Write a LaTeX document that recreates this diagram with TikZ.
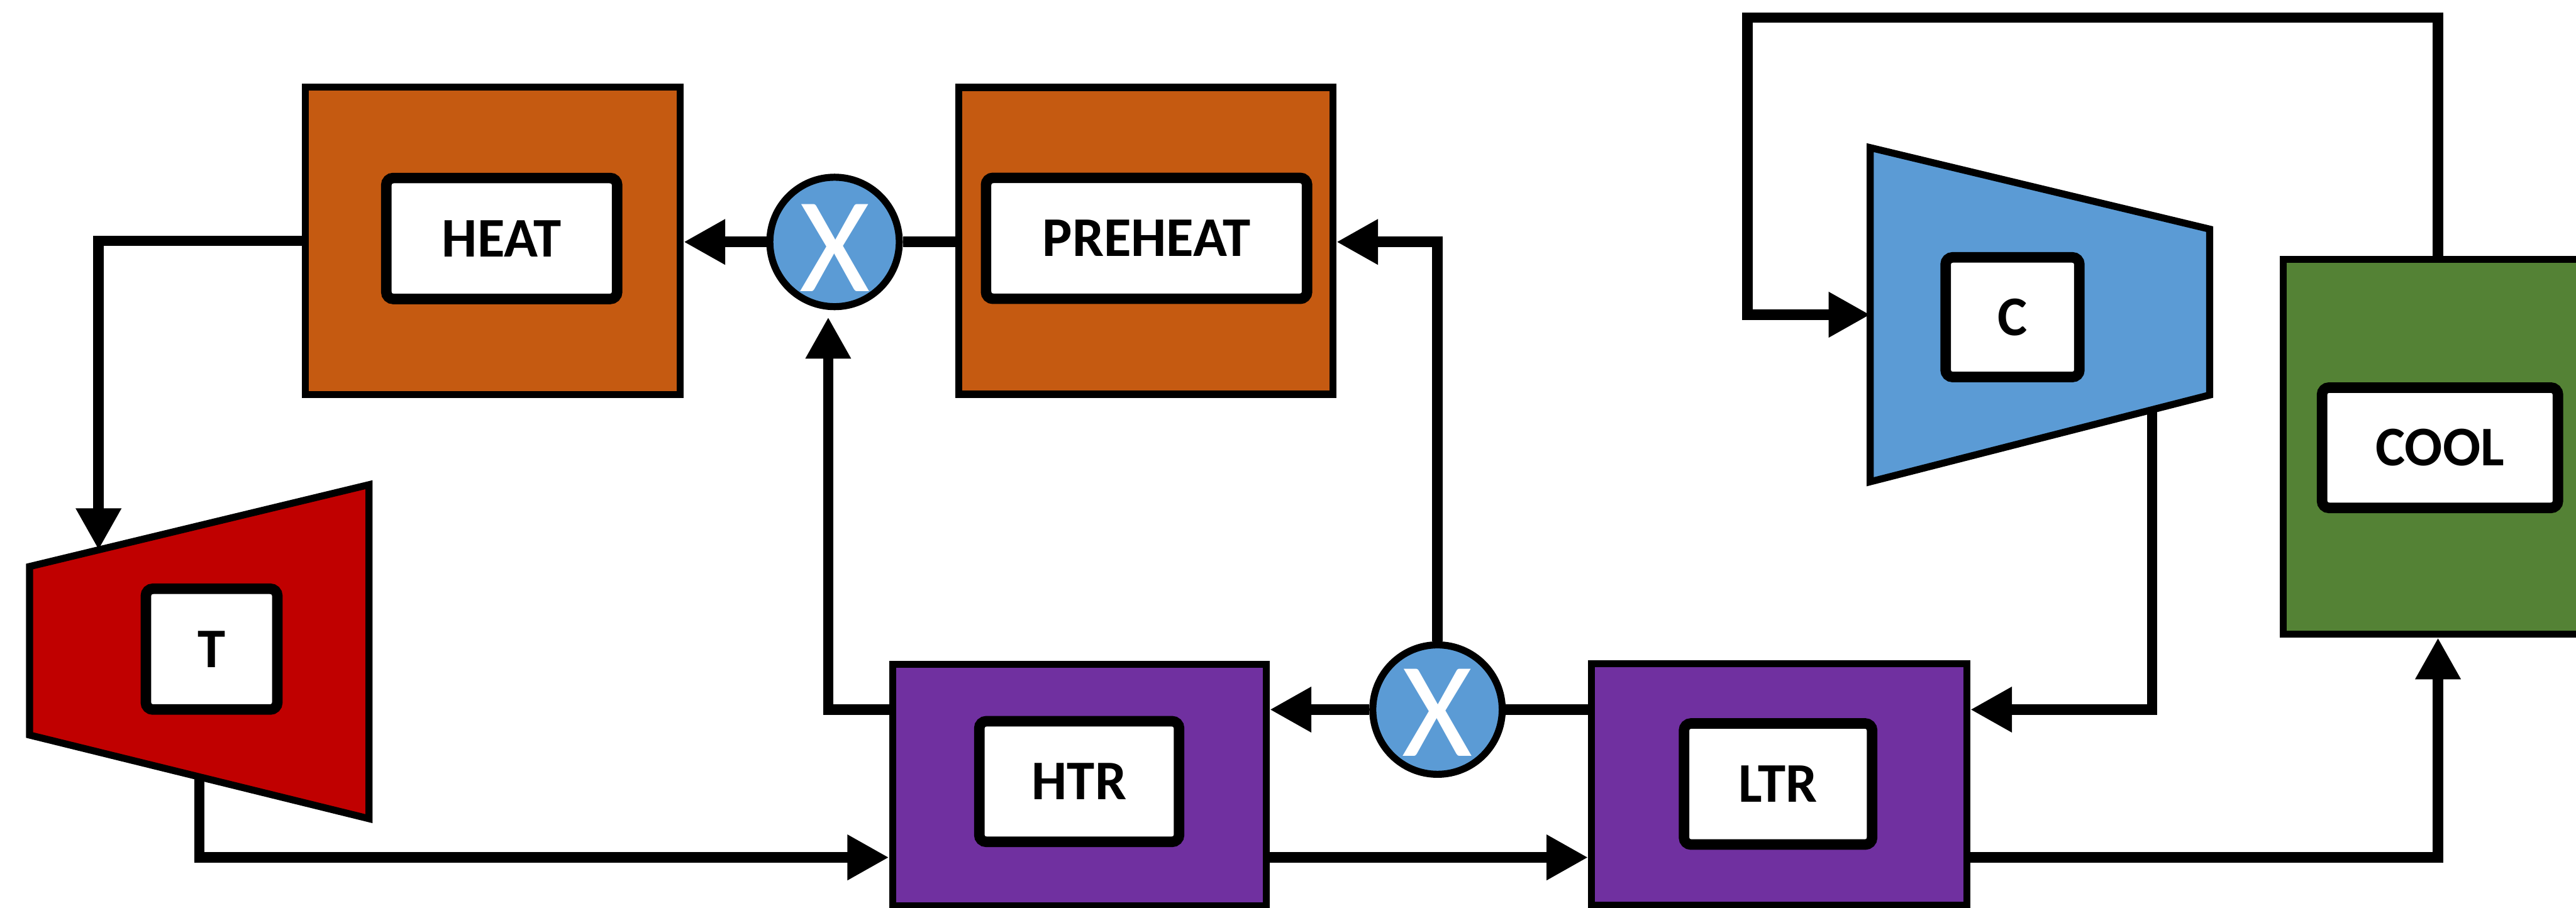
\documentclass[tikz,border=0pt]{standalone}
\usepackage{fontspec}
\setmainfont{Carlito}
\usetikzlibrary{arrows.meta,calc}
\definecolor{heatorange}{HTML}{C55A11}
\definecolor{recuppurple}{HTML}{7030A0}
\definecolor{coolgreen}{HTML}{548235}
\definecolor{compblue}{HTML}{5B9BD5}
\definecolor{turbred}{HTML}{C00000}
\pgfdeclarelayer{pipes}
\pgfsetlayers{pipes,main}

\begin{document}
\begin{tikzpicture}[x=0.1mm,y=-0.1mm,
  unit/.style={draw=black, line width=1.22pt, rectangle, inner sep=0pt},
  tag/.style={draw=black, fill=white, line width=1.82pt, rounded corners=1.2pt,
    inner sep=0pt, font=\fontsize{9.7}{11}\selectfont\bfseries},
  mixer/.style={circle, draw=black, line width=1.22pt, fill=compblue,
    minimum size=7.88mm, inner sep=0pt},
  mixmark/.style={text=white, inner sep=0pt, font=\fontsize{23.5}{24}\selectfont},
  machine/.style={draw=black, line width=1.22pt},
  pipe/.style={line width=1.82pt},
  flow/.style={pipe, -{Triangle[length=7.2pt,width=7.4pt]}},
]
\useasboundingbox (0,0) rectangle (1568,552.7);
\clip (0,0) rectangle (1568,552.7);

% heat exchangers and cooler
\node[unit, fill=heatorange, minimum width=22.8mm, minimum height=18.7mm] (heat) at (300,146.6) {};
\node[unit, fill=heatorange, minimum width=22.77mm, minimum height=18.68mm] (preheat) at (697.5,146.6) {};
\node[unit, fill=recuppurple, minimum width=22.75mm, minimum height=14.7mm] (htr) at (657,477.8) {};
\node[unit, fill=recuppurple, minimum width=22.84mm, minimum height=14.7mm] (ltr) at (1083,477.7) {};
\node[unit, fill=coolgreen, minimum width=18.86mm, minimum height=22.82mm] (cool) at (1484,272) {};

% turbine
\draw[machine, fill=turbred] (18,344.9) -- (224.6,295.1) -- (224.6,498.4) -- (18,447.5) -- cycle;
\coordinate (tin) at (60,334.8);
\coordinate (tout) at (121.3,470);

% compressor
\draw[machine, fill=compblue] (1138.4,89.9) -- (1345,139.5) -- (1345,240.5) -- (1138.4,293.3) -- cycle;
\coordinate (cin) at (1138.4,191.6);
\coordinate (cout) at (1310,246);

% mixers
\node[mixer] (mix1) at (508,147.3) {};
\node[mixmark] (mix1x) at (508,151) {X};
\node[mixer] (mix2) at (875,432) {};
\node[mixmark] (mix2x) at (875,434) {X};

% labels
\node[tag, minimum width=14.05mm, minimum height=7.36mm] (heatlbl) at (305.4,145.2) {HEAT};
\node[tag, minimum width=19.54mm, minimum height=7.36mm] (preheatlbl) at (697.9,145.1) {PREHEAT};
\node[tag, minimum width=8.0mm, minimum height=7.35mm] (tlbl) at (128.8,395.2) {T};
\node[tag, minimum width=12.16mm, minimum height=7.34mm] (htrlbl) at (656.9,475.8) {HTR};
\node[tag, minimum width=11.45mm, minimum height=7.37mm] (ltrlbl) at (1082.3,477.3) {LTR};
\node[tag, minimum width=8.14mm, minimum height=7.28mm] (clbl) at (1225,193.1) {C};
\node[tag, minimum width=14.36mm, minimum height=7.32mm] (coollbl) at (1485.2,272.6) {COOL};

% piping
\coordinate (lowrow) at (0,522);
\coordinate (loopcorner) at (1063.7,10.7);
\begin{pgfonlayer}{pipes}
  \draw[flow] (heat.west) -| (tin);
  \draw[flow] (mix1.west) -- (mix1.west -| heat.east);
  \draw[pipe] (preheat.west |- mix1) -- (mix1.east);
  \draw[flow] (mix2.north) |- (preheat.east |- mix1);
  \draw[flow, shorten >=1.2pt] (htr.west |- mix2) -| ([xshift=-1.1pt]mix1.south);
  \draw[flow] (mix2.west) -- (mix2.west -| htr.east);
  \draw[pipe] (mix2.east) -- (mix2.east -| ltr.west);
  \draw[flow] (tout) |- (htr.west |- lowrow);
  \draw[flow] (htr.east |- lowrow) -- (ltr.west |- lowrow);
  \draw[flow] (ltr.east |- lowrow) -| (cool.south);
  \draw[flow] (cool.north) |- (loopcorner) |- (cin);
  \draw[flow] (cout) |- (ltr.east |- mix2);
\end{pgfonlayer}
\end{tikzpicture}
\end{document}
